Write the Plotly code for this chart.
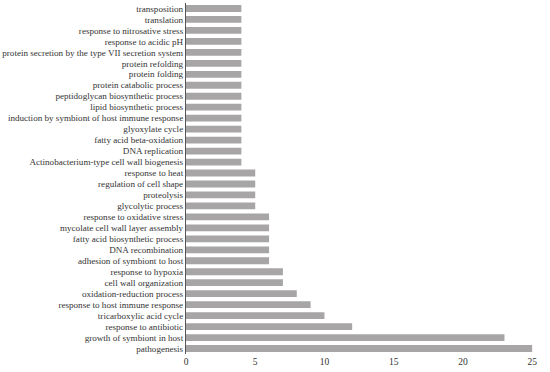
import plotly.graph_objects as go

categories = [
    "pathogenesis", "growth of symbiont in host", "response to antibiotic",
    "tricarboxylic acid cycle", "response to host immune response",
    "oxidation-reduction process", "cell wall organization", "response to hypoxia",
    "adhesion of symbiont to host", "DNA recombination", "fatty acid biosynthetic process",
    "mycolate cell wall layer assembly", "response to oxidative stress",
    "glycolytic process", "proteolysis", "regulation of cell shape", "response to heat",
    "Actinobacterium-type cell wall biogenesis", "DNA replication",
    "fatty acid beta-oxidation", "glyoxylate cycle",
    "induction by symbiont of host immune response", "lipid biosynthetic process",
    "peptidoglycan biosynthetic process", "protein catabolic process",
    "protein folding", "protein refolding",
    "protein secretion by the type VII secretion system", "response to acidic pH",
    "response to nitrosative stress", "translation", "transposition",
]
values = [25, 23, 12, 10, 9, 8, 7, 7, 6, 6, 6, 6, 6, 5, 5, 5, 5,
          4, 4, 4, 4, 4, 4, 4, 4, 4, 4, 4, 4, 4, 4, 4]
x_ticks = [0, 5, 10, 15, 20, 25]

fig = go.Figure(go.Bar(
    x=values, y=categories, orientation="h",
    marker=dict(color="#a8a5a7", line=dict(width=0)),
    width=0.62,
))
fig.update_layout(
    width=550, height=372,
    margin=dict(l=186, r=4, t=3, b=18),
    paper_bgcolor="white", plot_bgcolor="white",
    font=dict(family="Liberation Serif", size=9, color="#333333"),
    showlegend=False,
)
fig.update_xaxes(range=[0, 26.0], tickvals=x_ticks, showgrid=False, zeroline=False,
                 showline=False, ticks="", tickfont=dict(size=9.5), automargin=False)
fig.update_yaxes(categoryorder="array", categoryarray=categories, showgrid=False,
                 showline=True, linecolor="#555555", linewidth=1, ticks="",
                 tickmode="array", tickvals=categories, ticktext=categories,
                 range=[-0.5, len(categories) - 0.5], ticksuffix="    ",
                 automargin=False, tickfont=dict(size=9.1))
fig.write_html("out.html", config={"displayModeBar": False},
               post_script="document.body.style.margin='0';document.body.style.overflow='hidden';")
